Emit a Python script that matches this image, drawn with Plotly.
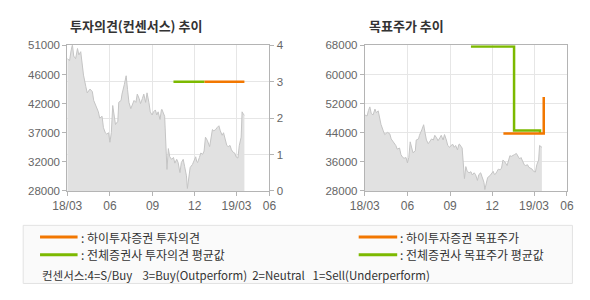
import plotly.graph_objects as go

# ---------------- data ----------------
price_dates = [
    "2018-03-01", "2018-03-06", "2018-03-09", "2018-03-12", "2018-03-15", "2018-03-19",
    "2018-03-23", "2018-03-26", "2018-03-30", "2018-04-02", "2018-04-05", "2018-04-10",
    "2018-04-13", "2018-04-19", "2018-04-24", "2018-04-27", "2018-05-03", "2018-05-07",
    "2018-05-10", "2018-05-15", "2018-05-18", "2018-05-22", "2018-05-25", "2018-05-29",
    "2018-06-01", "2018-06-04", "2018-06-07", "2018-06-11", "2018-06-13", "2018-06-18",
    "2018-06-20", "2018-06-25", "2018-06-27", "2018-07-02", "2018-07-04", "2018-07-06",
    "2018-07-09", "2018-07-12", "2018-07-16", "2018-07-19", "2018-07-23", "2018-07-27",
    "2018-07-30", "2018-08-03", "2018-08-06", "2018-08-10", "2018-08-13", "2018-08-17",
    "2018-08-20", "2018-08-24", "2018-08-27", "2018-08-31", "2018-09-03", "2018-09-07",
    "2018-09-10", "2018-09-13", "2018-09-17", "2018-09-20", "2018-09-21", "2018-09-27",
    "2018-09-28", "2018-10-01", "2018-10-02", "2018-10-05", "2018-10-08", "2018-10-12",
    "2018-10-16", "2018-10-19", "2018-10-23", "2018-10-26", "2018-10-30", "2018-11-02",
    "2018-11-06", "2018-11-09", "2018-11-13", "2018-11-15", "2018-11-19", "2018-11-21",
    "2018-11-26", "2018-11-28", "2018-12-03", "2018-12-05", "2018-12-07", "2018-12-11",
    "2018-12-14", "2018-12-18", "2018-12-21", "2018-12-24", "2018-12-28", "2019-01-02",
    "2019-01-04", "2019-01-08", "2019-01-11", "2019-01-15", "2019-01-18", "2019-01-22",
    "2019-01-25", "2019-01-29", "2019-02-01", "2019-02-07", "2019-02-08", "2019-02-11",
    "2019-02-15", "2019-02-18", "2019-02-22", "2019-02-25", "2019-02-28", "2019-03-04",
    "2019-03-07", "2019-03-11", "2019-03-13", "2019-03-15", "2019-03-18",
]
price_values = [
    48900, 48600, 50100, 51100, 49300, 48900,
    50500, 49500, 50000, 48100, 46300, 44500,
    43500, 44100, 43700, 42300, 41300, 40500,
    39500, 39800, 38000, 37200, 37000, 37200,
    35700, 37200, 41500, 39700, 38500, 39000,
    42000, 42300, 43300, 44800, 45300, 46200,
    44000, 42000, 41000, 41500, 42300, 42000,
    43300, 42600, 41800, 42600, 43300, 42000,
    43500, 42000, 40500, 40000, 40500, 40800,
    40000, 40500, 39300, 40800, 40900, 39800,
    38000, 35000, 31400, 34700, 33400, 33000,
    33300, 32400, 33000, 32500, 30900, 32500,
    33000, 31900, 30400, 28400, 31400, 31700,
    32200, 32500, 33400, 32700, 32500, 33300,
    34000, 33800, 34300, 36500, 36000, 35000,
    36000, 37700, 37500, 37700, 38000, 38300,
    37500, 36800, 37200, 35700, 35200, 35000,
    35200, 34500, 34100, 34000, 33400, 33200,
    35200, 36500, 40500, 40200, 40000,
]

# investment opinion (consensus)
op_avg_dates = ["2018-10-16", "2018-12-22"]
op_avg_values = [3, 3]
op_hi_dates = ["2018-12-22", "2019-03-18"]
op_hi_values = [3, 3]

# target price
tp_avg_dates = ["2018-10-16", "2019-01-17", "2019-03-14"]
tp_avg_values = [67700, 44600, 43900]
tp_hi_dates = ["2018-12-25", "2019-03-22"]
tp_hi_values = [43800, 53800]

x_tickvals = ["2018-03-01", "2018-06-01", "2018-09-01", "2018-12-01", "2019-03-01", "2019-05-11"]
x_ticktext = ["18/03", "06", "09", "12", "19/03", "06"]
x_range = ["2018-03-01", "2019-05-11"]

left_tickvals = [28000, 32600, 37200, 41800, 46400, 51000]
left_ticktext = ["28000", "32000", "37000", "42000", "46000", "51000"]
op_tickvals = [0, 1, 2, 3, 4]
tp_tickvals = [28000, 36000, 44000, 52000, 60000, 68000]
tp_ticktext = ["28000", "36000", "44000", "52000", "60000", "68000"]

title_left = "투자의견(컨센서스) 추이"
title_right = "목표주가 추이"
legend_texts = [": 하이투자증권 투자의견", ": 전체증권사 투자의견 평균값",
                ": 하이투자증권 목표주가", ": 전체증권사 목표주가 평균값"]
consensus_note = "컨센서스:4=S/Buy    3=Buy(Outperform)  2=Neutral   1=Sell(Underperform)"

# ---------------- style ----------------
ORANGE = "#f27700"
GREEN = "#7cb900"
FILL = "#e1e1e1"
PLINE = "#c4c4c4"
GRID = "#e6e6e6"
FRAME = "#b4b4b4"
TICKC = "#666666"
FONT = "Liberation Sans, Arial, Noto Sans CJK KR, sans-serif"
KFONT = "Noto Sans CJK KR, sans-serif"
TICKSIZE = 11.5

W, H = 590, 300
def px(x):
    return x / W
def py(y):
    return 1 - y / H

fig = go.Figure()

# left chart price area
fig.add_trace(go.Scatter(x=price_dates, y=price_values, mode="lines", fill="tozeroy",
                         fillcolor=FILL, line=dict(color=PLINE, width=1),
                         xaxis="x", yaxis="y", hoverinfo="skip"))
fig.add_trace(go.Scatter(x=op_avg_dates, y=op_avg_values, mode="lines",
                         line=dict(color=GREEN, width=2.5), xaxis="x", yaxis="y2"))
fig.add_trace(go.Scatter(x=op_hi_dates, y=op_hi_values, mode="lines",
                         line=dict(color=ORANGE, width=2.5), xaxis="x", yaxis="y2"))

# right chart
fig.add_trace(go.Scatter(x=price_dates, y=price_values, mode="lines", fill="tozeroy",
                         fillcolor=FILL, line=dict(color=PLINE, width=1),
                         xaxis="x2", yaxis="y3", hoverinfo="skip"))
fig.add_trace(go.Scatter(x=tp_avg_dates, y=tp_avg_values, mode="lines", line_shape="hv",
                         line=dict(color=GREEN, width=2.5), xaxis="x2", yaxis="y3"))
fig.add_trace(go.Scatter(x=tp_hi_dates, y=tp_hi_values, mode="lines", line_shape="hv",
                         line=dict(color=ORANGE, width=2.5), xaxis="x2", yaxis="y3"))

ydom = [py(192.7), py(41)]
xax = dict(type="date", range=x_range, tickmode="array", tickvals=x_tickvals, ticktext=x_ticktext,
           showgrid=True, gridcolor=GRID, gridwidth=1, showline=True, linecolor=FRAME, linewidth=1,
           mirror=True, ticks="outside", ticklen=4, tickcolor=FRAME,
           tickfont=dict(family=FONT, size=TICKSIZE + 0.5, color=TICKC), zeroline=False, fixedrange=True)

fig.update_layout(
    width=W, height=H, margin=dict(l=0, r=0, t=0, b=0),
    paper_bgcolor="white", plot_bgcolor="white", showlegend=False,
    xaxis=dict(xax, domain=[px(54.3), px(264.3)], anchor="y"),
    xaxis2=dict(xax, domain=[px(363.3), px(573.3)], anchor="y3"),
    yaxis=dict(domain=ydom, range=[28000, 51000], tickmode="array", tickvals=left_tickvals,
               ticktext=left_ticktext, showgrid=False, zeroline=False, showline=True,
               linecolor=FRAME, linewidth=1, ticks="outside", ticklen=4, tickcolor=FRAME,
               tickfont=dict(family=FONT, size=TICKSIZE, color=TICKC), anchor="x"),
    yaxis2=dict(domain=ydom, range=[0, 4], tickmode="array", tickvals=op_tickvals,
                overlaying="y", side="right", showgrid=True, gridcolor=GRID, zeroline=False,
                showline=True, linecolor=FRAME, linewidth=1, ticks="outside", ticklen=4,
                tickcolor=FRAME, tickfont=dict(family=FONT, size=TICKSIZE, color=TICKC), anchor="x"),
    yaxis3=dict(domain=ydom, range=[28000, 68000], tickmode="array", tickvals=tp_tickvals,
                ticktext=tp_ticktext,
                showgrid=True, gridcolor=GRID, zeroline=False, showline=True, mirror=True,
                linecolor=FRAME, linewidth=1, ticks="outside", ticklen=4, tickcolor=FRAME,
                tickfont=dict(family=FONT, size=TICKSIZE, color=TICKC), anchor="x2"),
)

# titles
fig.add_annotation(x=px(55), y=py(20), xref="paper", yref="paper", text="<b>" + title_left + "</b>",
                   showarrow=False, xanchor="left", yanchor="middle",
                   font=dict(family=KFONT, size=13, color="#333333"))
fig.add_annotation(x=px(366), y=py(20), xref="paper", yref="paper", text="<b>" + title_right + "</b>",
                   showarrow=False, xanchor="left", yanchor="middle",
                   font=dict(family=KFONT, size=13, color="#333333"))

# legend box
fig.add_shape(type="rect", xref="paper", yref="paper", x0=px(8.5), x1=px(579), y0=py(289), y1=py(228.5),
              fillcolor="#fafafa", line=dict(color="#e2e2e2", width=1), layer="below")
legend_items = [(26, 65, 240.7, ORANGE, legend_texts[0]),
                (26, 65, 259, GREEN, legend_texts[1]),
                (357, 397, 240.7, ORANGE, legend_texts[2]),
                (357, 397, 259, GREEN, legend_texts[3])]
for x0, x1, yy, col, txt in legend_items:
    fig.add_shape(type="line", xref="paper", yref="paper", x0=px(x0), x1=px(x1), y0=py(yy), y1=py(yy),
                  line=dict(color=col, width=3))
    fig.add_annotation(x=px(x1 + 1), y=py(yy), xref="paper", yref="paper", text=txt, showarrow=False,
                       xanchor="left", yanchor="middle", font=dict(family=KFONT, size=12, color="#333333"))
fig.add_annotation(x=px(26), y=py(280), xref="paper", yref="paper", text=consensus_note, showarrow=False,
                   xanchor="left", yanchor="middle", font=dict(family=KFONT, size=11.5, color="#333333"))

fig.write_html("out.html")
